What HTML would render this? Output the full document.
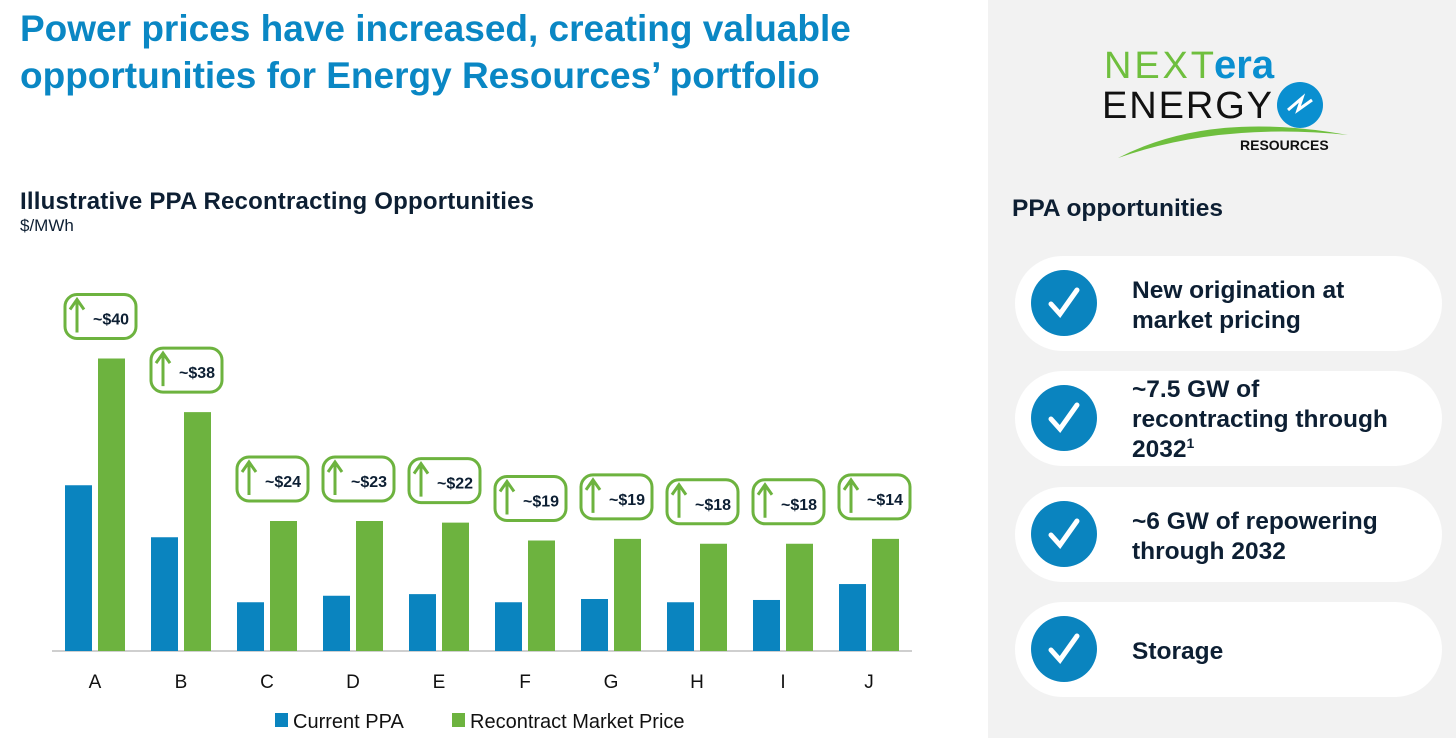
<!DOCTYPE html>
<html><head><meta charset="utf-8">
<style>
body{margin:0;width:1456px;height:738px;overflow:hidden;background:#fff;font-family:"Liberation Sans",Arial,sans-serif;position:relative}
.abs{position:absolute}
.title{left:20px;top:5px;font-size:37px;font-weight:bold;color:#0a87c4;line-height:47px;white-space:nowrap}
.panel{left:988px;top:0;width:468px;height:738px;background:#f2f2f2}
.card{left:1015px;width:427px;height:95px;background:#fff;border-radius:48px}
.circ{left:1031px;width:66px;height:66px;border-radius:50%;background:#0a84bf}
.ctext{left:1132px;font-size:24.5px;font-weight:bold;color:#0d1f33;line-height:30px;white-space:nowrap}
sup{font-size:14px;line-height:0;vertical-align:9px}
</style></head><body>
<div class="abs title">Power prices have increased, creating valuable<br>opportunities for Energy Resources’ portfolio</div>
<div class="abs" style="left:20px;top:188px;font-size:24px;font-weight:bold;color:#0d1f33;letter-spacing:0.2px;white-space:nowrap">Illustrative PPA Recontracting Opportunities</div>
<div class="abs" style="left:20px;top:216px;font-size:17px;color:#0d1f33">$/MWh</div>
<svg class="abs" style="left:0;top:0" width="988" height="738" id="chart"></svg>
<div class="abs panel"></div>
<svg class="abs" style="left:1090px;top:40px" width="270" height="125">
<text x="14" y="38" font-size="38" fill="#6fbf3e" font-family="Liberation Sans" textLength="110">NEXT</text>
<text x="124" y="38" font-size="40" font-weight="bold" fill="#0a8fd0" font-family="Liberation Sans">era</text>
<text x="12" y="78" font-size="38" fill="#111" font-family="Liberation Sans" textLength="170">ENERGY</text>
<circle cx="210" cy="65" r="23" fill="#0a8fd0"/>
<path d="M198 70 L212 58 L208 70 L222 60" stroke="#fff" stroke-width="3" fill="none"/>
<path d="M28 118 Q120 70 258 95 Q130 82 28 118Z" fill="#6fbf3e"/>
<text x="150" y="110" font-size="14" font-weight="bold" fill="#111" font-family="Liberation Sans">RESOURCES</text>
</svg>
<div class="abs" style="left:1012px;top:195px;font-size:24.5px;font-weight:bold;color:#0d1f33;white-space:nowrap">PPA opportunities</div>

<div class="abs card" style="top:256px"></div>
<div class="abs circ" style="top:270px"><svg width="66" height="66"><path d="M20 34 L29 44 L46 20" stroke="#fff" stroke-width="5" fill="none" stroke-linecap="round"/></svg></div>
<div class="abs ctext" style="top:276px">New origination at<br>market pricing</div>

<div class="abs card" style="top:371px"></div>
<div class="abs circ" style="top:385px"><svg width="66" height="66"><path d="M20 34 L29 44 L46 20" stroke="#fff" stroke-width="5" fill="none" stroke-linecap="round"/></svg></div>
<div class="abs ctext" style="top:375px">~7.5 GW of<br>recontracting through<br>2032<sup>1</sup></div>

<div class="abs card" style="top:487px"></div>
<div class="abs circ" style="top:501px"><svg width="66" height="66"><path d="M20 34 L29 44 L46 20" stroke="#fff" stroke-width="5" fill="none" stroke-linecap="round"/></svg></div>
<div class="abs ctext" style="top:507px">~6 GW of repowering<br>through 2032</div>

<div class="abs card" style="top:602px"></div>
<div class="abs circ" style="top:616px"><svg width="66" height="66"><path d="M20 34 L29 44 L46 20" stroke="#fff" stroke-width="5" fill="none" stroke-linecap="round"/></svg></div>
<div class="abs ctext" style="top:637px">Storage</div>

<script>
const categories=["A","B","C","D","E","F","G","H","I","J"];
const currentPPA=[51,35,15,17,17.5,15,16,15,15.7,20.6];
const recontractPrice=[90,73.5,40,40,39.5,34,34.5,33,33,34.5];
const upliftLabels=["~$40","~$38","~$24","~$23","~$22","~$19","~$19","~$18","~$18","~$14"];
const NS="http://www.w3.org/2000/svg";
const svg=document.getElementById('chart');
const baseY=651, pxPer=3.25, x0=95, step=86, bw=27;
const yScale=v=>baseY-v*pxPer;
const xCenter=i=>x0+i*step;
function mk(tag,attrs){const e=document.createElementNS(NS,tag);for(const k in attrs)e.setAttribute(k,attrs[k]);svg.appendChild(e);return e;}
const ax=mk('line',{x1:52,x2:912,y1:baseY,y2:baseY,stroke:'#bfbfbf','stroke-width':1.5});


categories.forEach((c,i)=>{
  const cx=xCenter(i);
  const b=mk('rect',{x:cx-30,y:yScale(currentPPA[i]),width:bw,height:currentPPA[i]*pxPer,fill:'#0a84bf'});
  
  
  const g=mk('rect',{x:cx+3,y:yScale(recontractPrice[i]),width:bw,height:recontractPrice[i]*pxPer,fill:'#6db33f'});
  
  
  const t=mk('text',{x:cx,y:688,'text-anchor':'middle','font-size':19,fill:'#111','font-family':'Liberation Sans'});
  t.textContent=c;
  
  
  const by=yScale(recontractPrice[i])-20-44;
  const box=mk('rect',{x:cx-30,y:by,width:71,height:44,rx:12,fill:'#fff',stroke:'#6db33f','stroke-width':3});
  
  
  const ar=mk('path',{d:`M${cx-18} ${by+38} L${cx-18} ${by+6} M${cx-25} ${by+15} L${cx-18} ${by+5} L${cx-11} ${by+15}`,stroke:'#6db33f','stroke-width':3,fill:'none'});
  
  
  const lt=mk('text',{x:cx-2,y:by+30,'font-size':16,'font-weight':'bold',fill:'#0d1f33','font-family':'Liberation Sans'});
  lt.textContent=upliftLabels[i];
  
  
});
const l1=mk('rect',{x:275,y:713,width:13,height:14,fill:'#0a84bf'});


const t1=mk('text',{x:293,y:728,'font-size':20,fill:'#111','font-family':'Liberation Sans'});t1.textContent='Current PPA';


const l2=mk('rect',{x:452,y:713,width:13,height:14,fill:'#6db33f'});


const t2=mk('text',{x:470,y:728,'font-size':20,fill:'#111','font-family':'Liberation Sans'});t2.textContent='Recontract Market Price';


</script>
</body></html>
